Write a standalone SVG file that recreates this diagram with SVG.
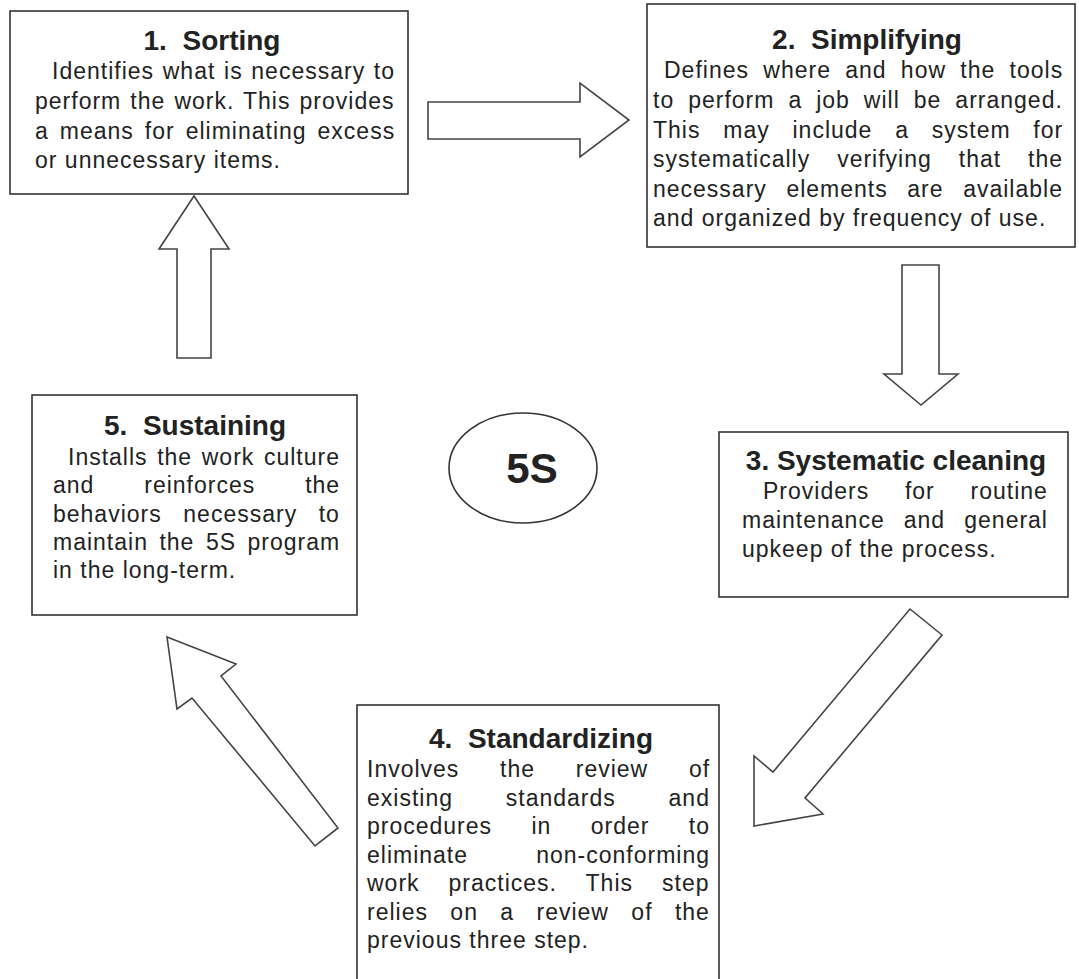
<svg xmlns="http://www.w3.org/2000/svg" width="1079" height="979" viewBox="0 0 1079 979">
<style>
.box{fill:#fff;stroke:#333;stroke-width:1.6}
.arr{fill:#fff;stroke:#444;stroke-width:1.6;stroke-linejoin:miter}
.t{font-family:"Liberation Sans",Arial,sans-serif;font-size:28px;font-weight:bold;fill:#222;text-anchor:middle;white-space:pre}
.b{font-family:"Liberation Sans",Arial,sans-serif;font-size:23px;fill:#222;letter-spacing:1px;white-space:pre}
.c{font-family:"Liberation Sans",Arial,sans-serif;font-size:42px;font-weight:bold;fill:#222;text-anchor:middle}
</style>
<rect width="1079" height="979" fill="#fff"/>
<g id="connectors">
<polygon class="arr" points="428,102 580,102 580,83 629,120 580,157 580,139 428,139"/>
<polygon class="arr" points="902,265 939,265 939,374 958,374 921,405 884,374 902,374"/>
<polygon class="arr" points="910,609 942,635 805,798 823,814 754,826 754,756 773,772"/>
<polygon class="arr" points="167,637 236,664 221,676 338,828 315,846 192,698 177,709"/>
<polygon class="arr" points="177,358 177,249 159,249 194,196 229,249 211,249 211,358"/>
</g>
<g id="n1">
<rect class="box" x="10" y="11" width="398" height="183"/>
<text class="t" x="212" y="50">1.  Sorting</text>
<text class="b" x="52" y="79" word-spacing="1.3">Identifies what is necessary to</text>
<text class="b" x="35" y="109" word-spacing="1.7">perform the work. This provides</text>
<text class="b" x="35" y="139" word-spacing="3.6">a means for eliminating excess</text>
<text class="b" x="35" y="168">or unnecessary items.</text>
</g>
<g id="n2">
<rect class="box" x="647" y="4" width="428" height="243"/>
<text class="t" x="867" y="49">2.  Simplifying</text>
<text class="b" x="664" y="78" word-spacing="6.9">Defines where and how the tools</text>
<text class="b" x="653" y="107.5" word-spacing="6.6">to perform a job will be arranged.</text>
<text class="b" x="653" y="137.5" word-spacing="15.4">This may include a system for</text>
<text class="b" x="653" y="167" word-spacing="19.6">systematically verifying that the</text>
<text class="b" x="653" y="196.5" word-spacing="12.2">necessary elements are available</text>
<text class="b" x="653" y="225.5">and organized by frequency of use.</text>
</g>
<g id="n3">
<rect class="box" x="719" y="432" width="349" height="165"/>
<text class="t" x="896" y="470">3. Systematic cleaning</text>
<text class="b" x="763" y="499" word-spacing="28.4">Providers for routine</text>
<text class="b" x="742" y="528" word-spacing="11.7">maintenance and general</text>
<text class="b" x="742" y="557">upkeep of the process.</text>
</g>
<g id="n4">
<rect class="box" x="357" y="705" width="362" height="300"/>
<text class="t" x="541" y="748">4.  Standardizing</text>
<text class="b" x="367" y="777" word-spacing="33.3">Involves the review of</text>
<text class="b" x="367" y="806" word-spacing="45.4">existing standards and</text>
<text class="b" x="367" y="834" word-spacing="32">procedures in order to</text>
<text class="b" x="367" y="863" word-spacing="60.8">eliminate non-conforming</text>
<text class="b" x="367" y="891" word-spacing="21.6">work practices. This step</text>
<text class="b" x="367" y="920" word-spacing="15">relies on a review of the</text>
<text class="b" x="367" y="948">previous three step.</text>
</g>
<g id="n5">
<rect class="box" x="32" y="395" width="325" height="220"/>
<text class="t" x="195" y="435">5.  Sustaining</text>
<text class="b" x="68" y="465" word-spacing="2.2">Installs the work culture</text>
<text class="b" x="53" y="493" word-spacing="42.5">and reinforces the</text>
<text class="b" x="53" y="522" word-spacing="14.2">behaviors necessary to</text>
<text class="b" x="53" y="550" word-spacing="4.1">maintain the 5S program</text>
<text class="b" x="53" y="578">in the long-term.</text>
</g>
<g id="center">
<ellipse class="box" cx="523" cy="468" rx="74" ry="55"/>
<text class="c" x="532" y="483">5S</text>
</g>
</svg>
